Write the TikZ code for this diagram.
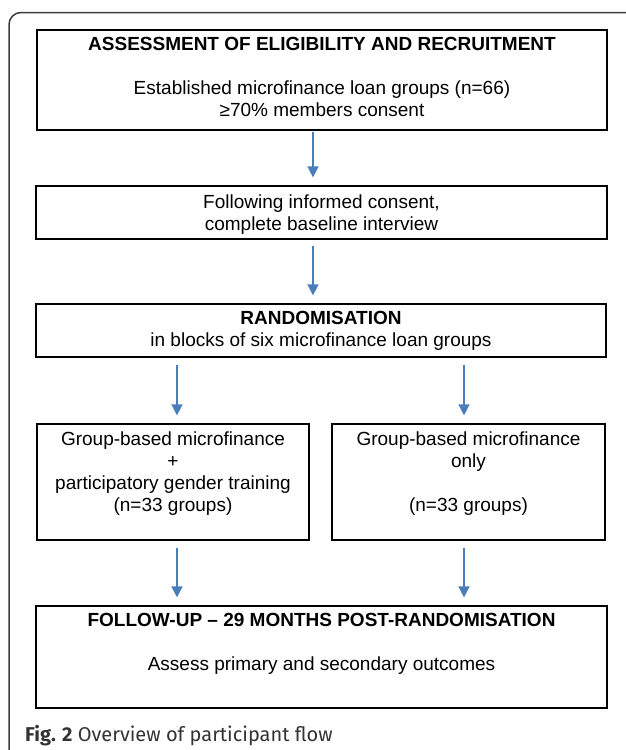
\documentclass[tikz,border=0pt]{standalone}
\usepackage{fontspec}
\setmainfont{Liberation Sans}
\newfontfamily\capfont{Fira Sans}
\usetikzlibrary{arrows.meta}
\definecolor{arrblue}{HTML}{4A7EBB}
\definecolor{framegray}{HTML}{3C3C3C}
\begin{document}
\begin{tikzpicture}[x=1pt,y=-1pt,
  box/.style={draw=black,line width=1.2pt,inner sep=0pt},
  txt/.style={align=center,inner sep=0pt,font=\fontsize{19}{22}\selectfont},
  arr/.style={draw=arrblue,line width=1.5pt,-{Triangle[length=11pt,width=11pt]},shorten <=6pt,shorten >=8pt}]
\useasboundingbox (0,0) rectangle (625,750);
% outer frame
\draw[framegray,line width=1.5pt,rounded corners=12pt] (9,770) -- (9,12.5) -- (650,12.5);
% boxes
\node[box,minimum width=570pt,minimum height=100pt] (b1) at (322,80) {};
\node[box,minimum width=571pt,minimum height=53pt] (b2) at (321.5,212.5) {};
\node[box,minimum width=570pt,minimum height=53pt] (b3) at (321,330.5) {};
\node[box,minimum width=272pt,minimum height=116pt] (b4) at (173,482) {};
\node[box,minimum width=273pt,minimum height=116pt] (b5) at (468.5,482) {};
\node[box,minimum width=571pt,minimum height=102pt] (b6) at (321.5,657) {};
% texts
\node[txt] (t1) at (322,76.5) {\textbf{ASSESSMENT OF ELIGIBILITY AND RECRUITMENT}\\[22pt]Established microfinance loan groups (n=66)\\≥70\% members consent};
\node[txt] (t2) at (321.5,215) {Following informed consent,\\complete baseline interview};
\node[txt] (t3) at (321,331) {\textbf{RANDOMISATION}\\in blocks of six microfinance loan groups};
\node[txt] (t4) at (173,473.5) {Group-based microfinance\\+\\participatory gender training\\(n=33 groups)};
\node[txt] (t5) at (468.5,473.5) {Group-based microfinance\\only\\[22pt](n=33 groups)};
\node[txt] (t6) at (321.5,644) {\textbf{FOLLOW-UP -- 29 MONTHS POST-RANDOMISATION}\\[22pt]Assess primary and secondary outcomes};
% arrow columns
\coordinate (xm) at (313,0);
\coordinate (xl) at (177,0);
\coordinate (xr) at (464,0);
\draw[arr,shorten <=1pt] (b1.south -| xm) -- (b2.north -| xm);
\draw[arr] (b2.south -| xm) -- (b3.north -| xm);
\draw[arr,shorten <=7pt] (b3.south -| xl) -- (b4.north -| xl);
\draw[arr,shorten <=7pt] (b3.south -| xr) -- (b5.north -| xr);
\draw[arr,shorten <=7pt] (b4.south -| xl) -- (b6.north -| xl);
\draw[arr,shorten <=7pt] (b5.south -| xr) -- (b6.north -| xr);
% caption
\node[anchor=base west,inner sep=0pt,font=\capfont\fontsize{20}{24}\selectfont,text=black!80] (cap) at (25,741) {\textbf{Fig. 2} Overview of participant flow};
\end{tikzpicture}
\end{document}
